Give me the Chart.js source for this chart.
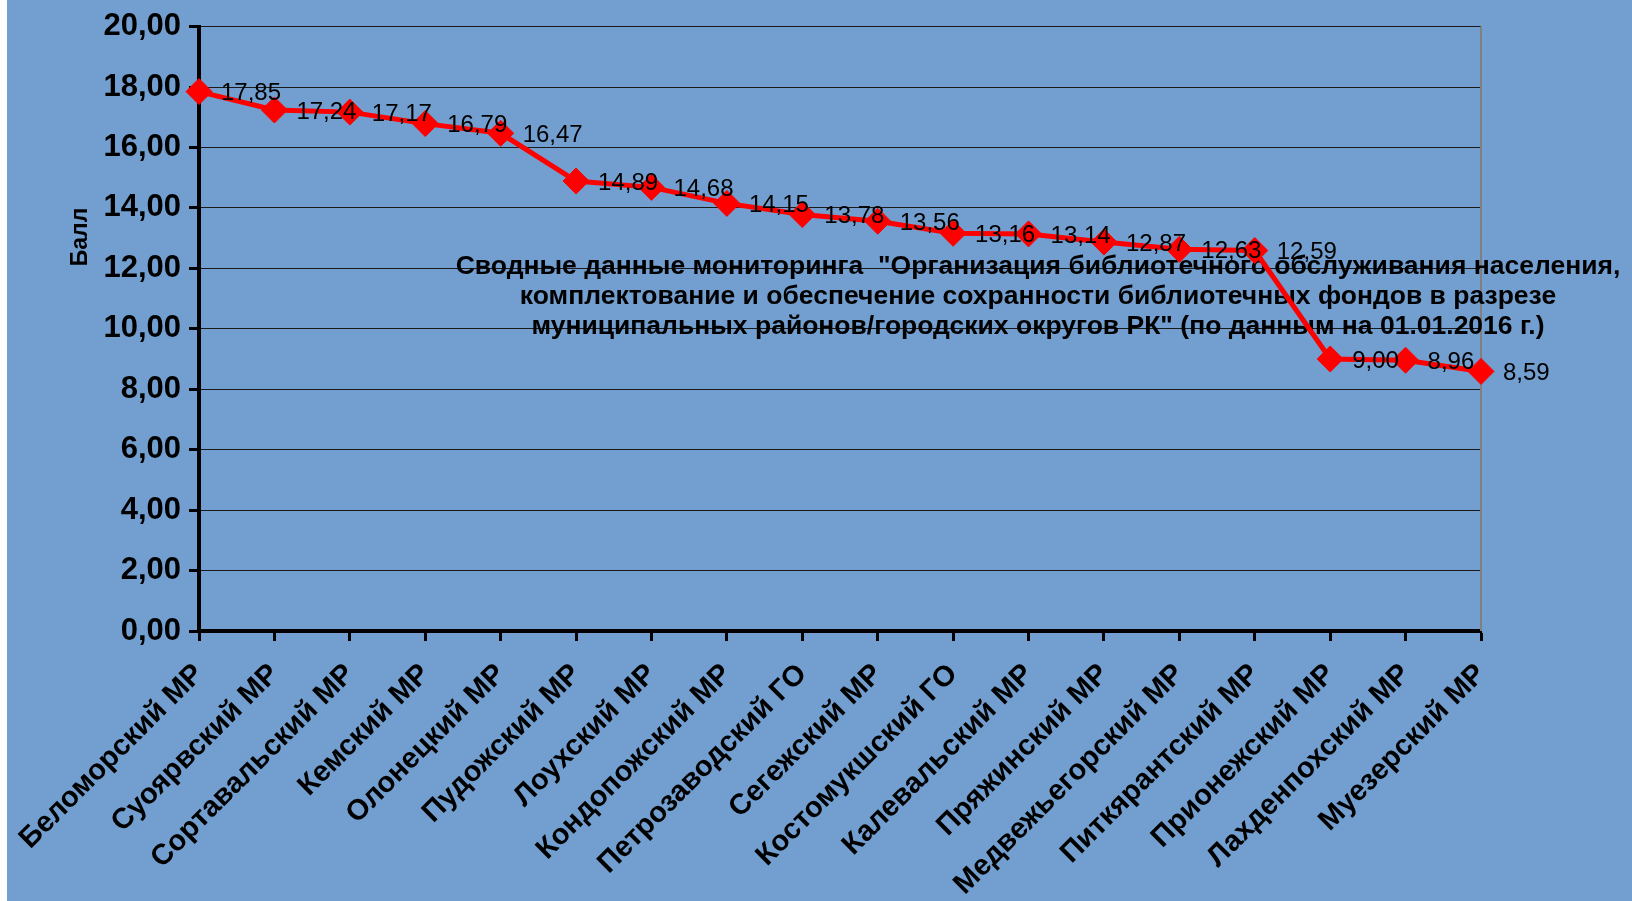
<!DOCTYPE html>
<html>
<head>
<meta charset="utf-8">
<script src="https://cdn.jsdelivr.net/npm/chart.js@4.4.1/dist/chart.umd.min.js"></script>
<style>
	html, body { margin: 0; padding: 0; background: #ffffff; }
	#wrap { width: 1632px; height: 901px; }
</style>
</head>
<body>
<div id="wrap"><canvas id="chart" width="1632" height="901"></canvas></div>
<script>
// Районы / округа
const districts = [
	"Беломорский МР", "Суоярвский МР", "Сортавальский МР", "Кемский МР",
	"Олонецкий МР", "Пудожский МР", "Лоухский МР", "Кондопожский МР",
	"Петрозаводский ГО", "Сегежский МР", "Костомукшский ГО", "Калевальский МР",
	"Пряжинский МР", "Медвежьегорский МР", "Питкярантский МР", "Прионежский МР",
	"Лахденпохский МР", "Муезерский МР"
]
// Баллы
const scores = [17.85, 17.24, 17.17, 16.79, 16.47, 14.89, 14.68, 14.15, 13.78, 13.56, 13.16, 13.14, 12.87, 12.63, 12.59, 9.00, 8.96, 8.59]

const yMin = 0
const yMax = 20
const yStep = 2
const yTitle = "Балл"

const titleLines = [
	"Сводные данные мониторинга  \"Организация библиотечного обслуживания населения,",
	"комплектование и обеспечение сохранности библиотечных фондов в разрезе",
	"муниципальных районов/городских округов РК\" (по данным на 01.01.2016 г.)"
]

const FONT = "'Liberation Sans', Arial, sans-serif"
const fmt = v => v.toFixed(2).replace(".", ",")

const decorPlugin = {
	id: "decor",
	beforeDraw(chart){
		const ctx = chart.ctx
		ctx.save()
		ctx.fillStyle = "#ffffff"
		ctx.fillRect(0, 0, chart.width, chart.height)
		ctx.fillStyle = "#729fcf"
		ctx.fillRect(7, 0, chart.width - 7, chart.height)
		ctx.restore()
	},
	beforeDatasetsDraw(chart){
		const ctx = chart.ctx
		const a = chart.chartArea
		ctx.save()
		//правая граница области построения
		ctx.strokeStyle = "#808080"
		ctx.lineWidth = 2
		ctx.beginPath()
		ctx.moveTo(a.right, a.top)
		ctx.lineTo(a.right, a.bottom)
		ctx.stroke()
		//заголовок внутри графика
		ctx.fillStyle = "#000"
		ctx.font = "bold 26.5px " + FONT
		ctx.textAlign = "center"
		ctx.textBaseline = "middle"
		titleLines.forEach((t, i) => {
			ctx.fillText(t, 1038, 267 + i * 30)
		})
		//подпись оси Y
		ctx.translate(81, 237)
		ctx.rotate(-Math.PI / 2)
		ctx.font = "bold 23px " + FONT
		ctx.fillText(yTitle, 0, 0)
		ctx.restore()
	},
	afterDatasetsDraw(chart){
		const ctx = chart.ctx
		const meta = chart.getDatasetMeta(0)
		ctx.save()
		ctx.fillStyle = "#000"
		ctx.font = "24px " + FONT
		ctx.textAlign = "left"
		ctx.textBaseline = "middle"
		meta.data.forEach((p, i) => {
			ctx.fillText(fmt(scores[i]), p.x + 22, p.y + 2)
		})
		ctx.restore()
	}
}

const chart = new Chart("chart", {
	type: "line",
	data: {
		labels: districts,
		datasets: [{
			data: scores,
			borderColor: "#ff0000",
			borderWidth: 5,
			tension: 0,
			pointStyle: "rectRot",
			pointRadius: 13,
			pointBackgroundColor: "#ff0000",
			pointBorderColor: "#ff0000",
			pointBorderWidth: 1,
			clip: false
		}]
	},
	options: {
		responsive: false,
		animation: false,
		layout: {
			padding: {left: 0, top: 23, right: 151, bottom: 0}
		},
		plugins: {
			legend: {display: false},
			tooltip: {enabled: false}
		},
		scales: {
			x: {
				offset: false,
				afterFit(scale){ scale.height = 270 },
				border: {color: "#000", width: 4},
				grid: {
					drawOnChartArea: false,
					tickColor: "#000",
					tickWidth: 3,
					tickLength: 10
				},
				ticks: {
					autoSkip: false,
					minRotation: 45,
					maxRotation: 45,
					padding: 16,
					color: "#000",
					font: {family: FONT, size: 29, weight: "bold"}
				}
			},
			y: {
				min: yMin,
				max: yMax,
				afterFit(scale){ scale.width = 199 },
				border: {color: "#000", width: 4},
				grid: {
					color: "#1a1a1a",
					lineWidth: 1,
					tickColor: "#000",
					tickWidth: 3,
					tickLength: 10
				},
				ticks: {
					stepSize: yStep,
					padding: 8,
					color: "#000",
					font: {family: FONT, size: 31, weight: "bold"},
					callback: v => fmt(v)
				}
			}
		}
	},
	plugins: [decorPlugin]
})
</script>
</body>
</html>
